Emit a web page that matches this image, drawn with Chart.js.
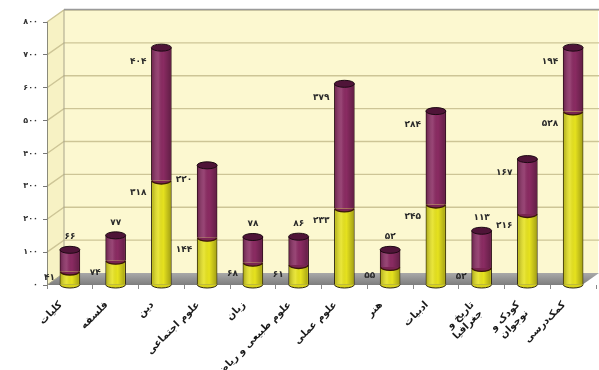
<!DOCTYPE html>
<html><head><meta charset="utf-8">
<script src="https://cdn.jsdelivr.net/npm/chart.js@4/dist/chart.umd.min.js"></script>
<style>html,body{margin:0;padding:0;background:#fff}#wrap{width:599px;height:370px;position:relative}</style>
</head><body><div id="wrap"><canvas id="c"></canvas></div>
<script>
const categories = ['کلیات','فلسفه','دین','علوم اجتماعی','زبان','علوم طبیعی و ریاضیات','علوم عملی','هنر','ادبیات',['تاریخ و','جغرافیا'],['کودک و','نوجوان'],'کمک‌درسی'];
const lowerValues = [41,74,318,144,68,61,233,55,245,52,216,528];
const upperValues = [66,77,404,220,78,86,379,52,284,113,167,194];
const yTickLabels = ['۰','۱۰۰','۲۰۰','۳۰۰','۴۰۰','۵۰۰','۶۰۰','۷۰۰','۸۰۰'];

const FONT = "'DejaVu Sans', sans-serif";
const toFa = n => String(n).replace(/[0-9]/g, d => '۰۱۲۳۴۵۶۷۸۹'[d]);
const DX = 17, DY = 12;

const wallsPlugin = {
  id: 'walls',
  beforeDraw(chart) {
    const ctx = chart.ctx, ca = chart.chartArea, ys = chart.scales.y;
    const L = ca.left, R = ca.right, T = ca.top, B = ca.bottom;
    ctx.save();
    ctx.fillStyle = '#ffffff';
    ctx.fillRect(0, 0, chart.width, chart.height);
    ctx.fillStyle = '#fcf8d0';
    ctx.fillRect(L + DX, T - DY, R - L - DX + 2, B - T);
    ctx.fillStyle = '#f7f2c4';
    ctx.beginPath();
    ctx.moveTo(L, T); ctx.lineTo(L + DX, T - DY); ctx.lineTo(L + DX, B - DY); ctx.lineTo(L, B); ctx.closePath();
    ctx.fill();
    const g = ctx.createLinearGradient(0, B - DY, 0, B);
    g.addColorStop(0, '#a9a9a9'); g.addColorStop(1, '#7d7d7d');
    ctx.fillStyle = g;
    ctx.beginPath();
    ctx.moveTo(L, B); ctx.lineTo(L + DX, B - DY); ctx.lineTo(R + 3, B - DY); ctx.lineTo(R + 3 - DX, B); ctx.closePath();
    ctx.fill();
    ctx.strokeStyle = '#cdc596'; ctx.lineWidth = 1.4;
    for (let v = 100; v <= 800; v += 100) {
      const y = ys.getPixelForValue(v);
      ctx.beginPath();
      ctx.moveTo(L, y); ctx.lineTo(L + DX, y - DY); ctx.lineTo(R + 3, y - DY);
      ctx.stroke();
    }
    ctx.strokeStyle = '#a8a48a'; ctx.lineWidth = 1;
    ctx.beginPath();
    ctx.moveTo(L + DX, B - DY); ctx.lineTo(L + DX, T - DY);
    ctx.moveTo(L, B); ctx.lineTo(L + DX, B - DY);
    ctx.stroke();
    ctx.strokeStyle = '#9a9a9a'; ctx.lineWidth = 1.5;
    ctx.beginPath();
    ctx.moveTo(L + DX, T - DY - 0.5); ctx.lineTo(R + 3, T - DY - 0.5);
    ctx.stroke();
    ctx.restore();
  }
};

const cylPlugin = {
  id: 'cyl',
  afterDatasetsDraw(chart) {
    const ctx = chart.ctx;
    const m0 = chart.getDatasetMeta(0), m1 = chart.getDatasetMeta(1);
    ctx.save();
    m0.data.forEach((b0, i) => {
      const b1 = m1.data[i];
      const x = b0.x, w = b0.width, hw = w / 2, ry = 3.5;
      const sh = ctx.createLinearGradient(x - hw, 0, x + hw, 0);
      sh.addColorStop(0, 'rgba(0,0,0,0.28)');
      sh.addColorStop(0.35, 'rgba(255,255,255,0.12)');
      sh.addColorStop(0.6, 'rgba(0,0,0,0)');
      sh.addColorStop(1, 'rgba(0,0,0,0.3)');
      ctx.fillStyle = sh;
      ctx.fillRect(x - hw + 1, b1.y, w - 2, b0.base - b1.y);
      ctx.beginPath();
      ctx.ellipse(x, b0.base, hw, ry, 0, 0, Math.PI);
      ctx.fillStyle = '#d9d41a'; ctx.fill();
      ctx.strokeStyle = '#2b2410'; ctx.lineWidth = 1; ctx.stroke();
      ctx.beginPath();
      ctx.ellipse(x, b0.y, hw - 0.5, ry, 0, 0, Math.PI);
      ctx.fillStyle = '#7a2452'; ctx.fill();
      ctx.strokeStyle = '#3a1808'; ctx.lineWidth = 1.4; ctx.stroke();
      ctx.beginPath();
      ctx.ellipse(x, b1.y, hw, ry, 0, 0, Math.PI * 2);
      ctx.fillStyle = '#4f1438'; ctx.fill();
      ctx.strokeStyle = '#1e0a14'; ctx.lineWidth = 1; ctx.stroke();

      ctx.fillStyle = '#2a2a2a';
      ctx.font = "bold 9px " + FONT;
      ctx.textBaseline = 'middle';
      const h0 = b0.base - b0.y;
      ctx.textAlign = 'right';
      ctx.fillText(toFa(lowerValues[i]), x - hw - 5, b0.y + Math.min(h0 / 2, 12));
      const h1 = b1.base - b1.y;
      if (h1 < 45) {
        ctx.textAlign = 'center';
        ctx.fillText(toFa(upperValues[i]), x, b1.y - 13);
      } else {
        ctx.textAlign = 'right';
        ctx.fillText(toFa(upperValues[i]), x - hw - 5, b1.y + 14);
      }
    });
    ctx.restore();
  }
};

new Chart(document.getElementById('c'), {
  type: 'bar',
  data: {
    labels: categories,
    datasets: [
      { label: 'a', data: lowerValues, backgroundColor: '#e6e21e', borderColor: '#2b2410',
        borderWidth: { left: 1, right: 1, top: 0, bottom: 0 }, barThickness: 20 },
      { label: 'b', data: upperValues, backgroundColor: '#8a2b62', borderColor: '#2b1018',
        borderWidth: { left: 1, right: 1, top: 0, bottom: 0 }, barThickness: 20 }
    ]
  },
  options: {
    responsive: true,
    maintainAspectRatio: false,
    animation: false,
    layout: { padding: { top: 22, right: 3, left: 0, bottom: 0 } },
    plugins: { legend: { display: false }, tooltip: { enabled: false } },
    scales: {
      x: {
        stacked: true,
        grid: { display: true, drawOnChartArea: false, drawTicks: true, tickLength: 4, color: '#888', offset: true },
        border: { display: false },
        ticks: {
          autoSkip: false, minRotation: 45, maxRotation: 45, padding: 10, labelOffset: -9,
          color: '#1a1a1a', font: { family: FONT, size: 10, weight: 'bold' }
        },
        afterFit(s) { s.height = 85; }
      },
      y: {
        stacked: true, min: 0, max: 800,
        grid: { display: true, drawOnChartArea: false, drawTicks: true, tickLength: 4, color: '#777' },
        border: { display: true, color: '#8a8a7a' },
        ticks: {
          stepSize: 100, padding: 5, color: '#333',
          font: { family: FONT, size: 8, weight: 'bold' },
          callback: (v) => yTickLabels[Math.round(v / 100)]
        },
        afterFit(s) { s.width = 47; }
      }
    }
  },
  plugins: [wallsPlugin, cylPlugin]
});
</script>
</body></html>
